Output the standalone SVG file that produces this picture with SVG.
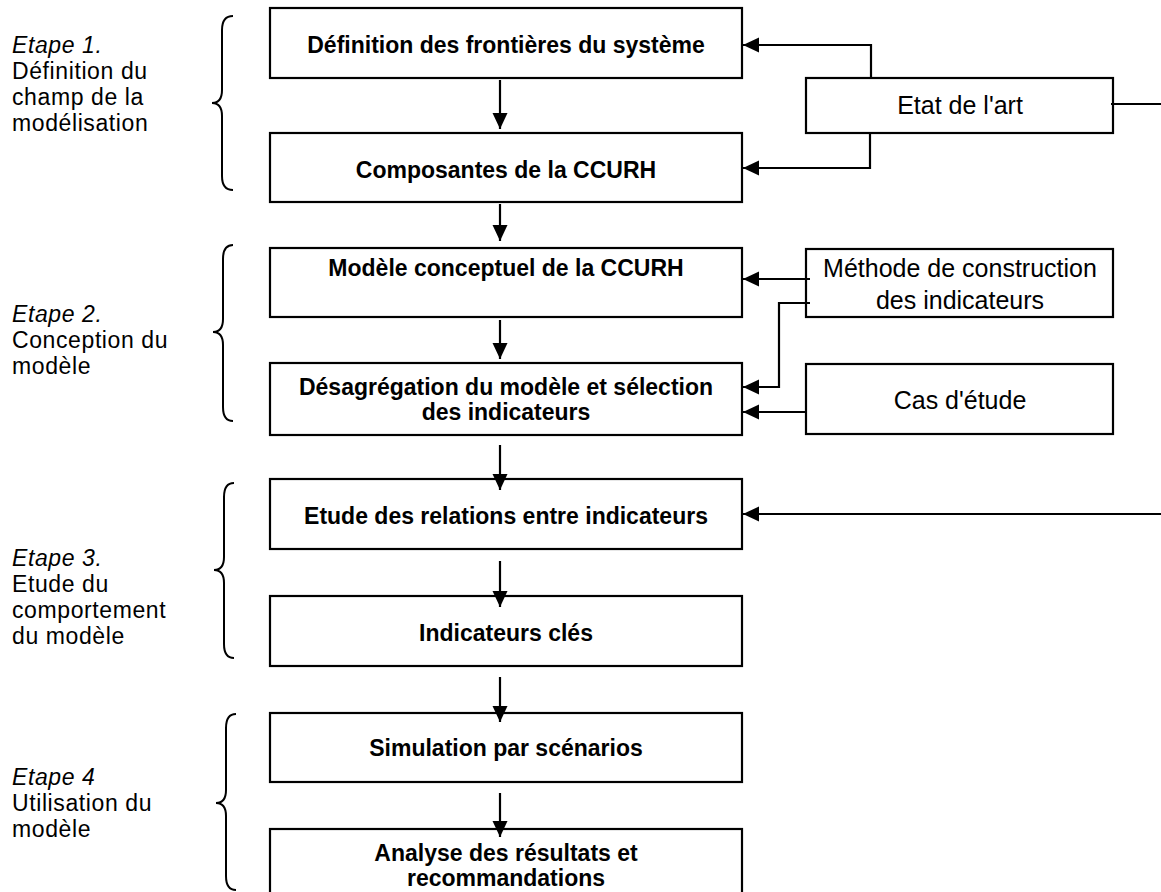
<svg xmlns="http://www.w3.org/2000/svg" width="1161" height="892" viewBox="0 0 1161 892">
<style>
.box{fill:#fff;stroke:#000;stroke-width:2.2}
.b{font-family:"Liberation Sans",Arial,sans-serif;font-weight:bold;font-size:23px;text-anchor:middle;fill:#000}
.r{font-family:"Liberation Sans",Arial,sans-serif;font-size:25px;text-anchor:middle;fill:#000}
.l{font-family:"Liberation Sans",Arial,sans-serif;font-size:23px;letter-spacing:0.6px;fill:#000}
.i{font-style:italic}
.c{fill:none;stroke:#000;stroke-width:2.2}
.br{fill:none;stroke:#000;stroke-width:2}
</style>
<defs>
<marker id="ah" markerUnits="userSpaceOnUse" markerWidth="18" markerHeight="16" refX="16" refY="7.5" orient="auto">
<path d="M0,0 L16,7.5 L0,15 Z" fill="#000"/>
</marker>
</defs>
<rect width="1161" height="892" fill="#fff"/>

<g id="labels">
<text class="l" x="12"><tspan class="i" x="12" y="53">Etape 1.</tspan><tspan x="12" y="79">Définition du</tspan><tspan x="12" y="105">champ de la</tspan><tspan x="12" y="131">modélisation</tspan></text>
<text class="l" x="12"><tspan class="i" x="12" y="322">Etape 2.</tspan><tspan x="12" y="348">Conception du</tspan><tspan x="12" y="374">modèle</tspan></text>
<text class="l" x="12"><tspan class="i" x="12" y="566">Etape 3.</tspan><tspan x="12" y="592">Etude du</tspan><tspan x="12" y="618">comportement</tspan><tspan x="12" y="644">du modèle</tspan></text>
<text class="l" x="12"><tspan class="i" x="12" y="785">Etape 4</tspan><tspan x="12" y="811">Utilisation du</tspan><tspan x="12" y="837">modèle</tspan></text>
</g>

<g id="brackets">
<path class="br" d="M233,16 Q222,16 222,30 L222,90 Q222,103 212,103 Q222,103 222,116 L222,176 Q222,190 233,190"/>
<path class="br" d="M233,245 Q223,245 223,259 L223,319 Q223,332 213,332 Q223,332 223,345 L223,407 Q223,421 233,421"/>
<path class="br" d="M234,483 Q224,483 224,497 L224,557 Q224,570 214,570 Q224,570 224,583 L224,644 Q224,658 234,658"/>
<path class="br" d="M236,714 Q226,714 226,728 L226,790 Q226,803 216,803 Q226,803 226,816 L226,876 Q226,890 236,890"/>
</g>

<g id="n1"><rect class="box" x="270" y="8" width="472" height="70"/><text class="b" x="506" y="53">Définition des frontières du système</text></g>
<g id="n2"><rect class="box" x="270" y="133" width="472" height="69"/><text class="b" x="506" y="178">Composantes de la CCURH</text></g>
<g id="n3"><rect class="box" x="270" y="248" width="472" height="69"/><text class="b" x="506" y="276">Modèle conceptuel de la CCURH</text></g>
<g id="n4"><rect class="box" x="270" y="363" width="472" height="72"/><text class="b" x="506" y="395">Désagrégation du modèle et sélection</text><text class="b" x="506" y="420">des indicateurs</text></g>
<g id="n5"><rect class="box" x="270" y="479" width="472" height="70"/><text class="b" x="506" y="524">Etude des relations entre indicateurs</text></g>
<g id="n6"><rect class="box" x="270" y="596" width="472" height="70"/><text class="b" x="506" y="641">Indicateurs clés</text></g>
<g id="n7"><rect class="box" x="270" y="713" width="472" height="69"/><text class="b" x="506" y="756">Simulation par scénarios</text></g>
<g id="n8"><rect class="box" x="270" y="829" width="472" height="72"/><text class="b" x="506" y="861">Analyse des résultats et</text><text class="b" x="506" y="886">recommandations</text></g>

<g id="n9"><rect class="box" x="806" y="78" width="307" height="55"/><text class="r" x="960" y="114">Etat de l'art</text></g>
<g id="n10"><rect class="box" x="806" y="249" width="307" height="68"/><text class="r" x="960" y="277">Méthode de construction</text><text class="r" x="960" y="309">des indicateurs</text></g>
<g id="n11"><rect class="box" x="806" y="364" width="307" height="70"/><text class="r" x="960" y="409">Cas d'étude</text></g>

<g id="connectors">
<path class="c" d="M500,80 L500,129" marker-end="url(#ah)"/>
<path class="c" d="M500,204 L500,241" marker-end="url(#ah)"/>
<path class="c" d="M500,320 L500,359" marker-end="url(#ah)"/>
<path class="c" d="M500,445 L500,490" marker-end="url(#ah)"/>
<path class="c" d="M500,561 L500,607" marker-end="url(#ah)"/>
<path class="c" d="M500,677 L500,722" marker-end="url(#ah)"/>
<path class="c" d="M500,793 L500,837" marker-end="url(#ah)"/>
<path class="c" d="M871,78 L871,45 L743,45" marker-end="url(#ah)"/>
<path class="c" d="M870,133 L870,168 L743,168" marker-end="url(#ah)"/>
<path class="c" d="M1111,104 L1161,104"/>
<path class="c" d="M810,279 L743,279" marker-end="url(#ah)"/>
<path class="c" d="M810,303 L779,303 L779,387 L743,387" marker-end="url(#ah)"/>
<path class="c" d="M806,412 L743,412" marker-end="url(#ah)"/>
<path class="c" d="M1161,514 L743,514" marker-end="url(#ah)"/>
</g>
</svg>
